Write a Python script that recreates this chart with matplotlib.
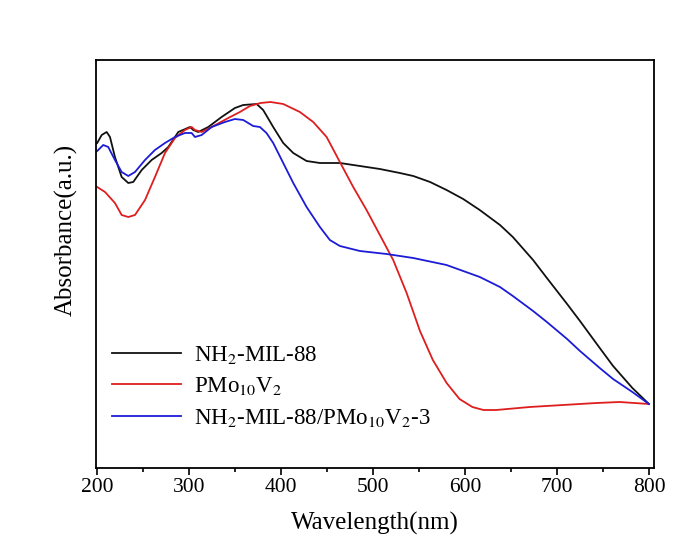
import matplotlib
matplotlib.use("Agg")
import matplotlib.pyplot as plt
from matplotlib.ticker import MultipleLocator

# ---- data (absorbance, arbitrary units) ----
nh2_x = [200, 204.9, 210.3, 213.9, 219.3, 226.6, 233.8, 239.2, 248.4, 259.2, 270.1, 277.3, 288.2,
         300.9, 304.5, 309.9, 320.8, 335.3, 349.8, 358.8, 373.4, 380.5, 391.4, 402.3, 413.2, 427.7,
         442.2, 463.9, 485.7, 507.4, 529.1, 543.7, 562, 579.9, 598, 616, 638, 652, 674, 689, 711, 725,
         746.5, 761, 782, 800]
nh2_y = [3.25, 3.33, 3.36, 3.31, 3.11, 2.91, 2.85, 2.86, 2.98, 3.08, 3.15, 3.21, 3.36,
         3.41, 3.38, 3.36, 3.41, 3.51, 3.60, 3.63, 3.64, 3.58, 3.41, 3.25, 3.15, 3.07,
         3.05, 3.05, 3.02, 2.99, 2.95, 2.92, 2.86, 2.78, 2.69, 2.58, 2.43, 2.31, 2.08, 1.90, 1.64, 1.47,
         1.20, 1.02, 0.80, 0.64]

pmo_x = [200, 208.5, 219.3, 226.6, 233.8, 241.1, 252, 262.8, 273.7, 284.6, 295.4, 302.7, 306.3,
         313.6, 324.5, 342.5, 355.2, 366.1, 377.7, 388.5, 402.3, 420.4, 434.9, 449.5, 463.9, 478.4,
         492.9, 507.4, 521.9, 536.5, 551, 565, 580, 594, 608, 620, 634, 670.4, 706.6, 742.9,
         768.2, 800]
pmo_y = [2.81, 2.76, 2.65, 2.53, 2.51, 2.53, 2.68, 2.91, 3.15, 3.30, 3.38, 3.41, 3.38,
         3.36, 3.41, 3.50, 3.56, 3.62, 3.65, 3.66, 3.64, 3.56, 3.46, 3.31, 3.06, 2.81,
         2.58, 2.33, 2.08, 1.75, 1.37, 1.08, 0.85, 0.69, 0.61, 0.58, 0.58, 0.61, 0.63, 0.65,
         0.66, 0.64]

comp_x = [200, 206.6, 212, 219.3, 226.6, 233.8, 241.1, 252, 262.8, 273.7, 284.6, 295.4, 302.7,
          306.3, 313.6, 324.5, 338.9, 349.8, 358.8, 369.6, 376.9, 384.1, 391.4, 402.3, 413.2,
          427.7, 442.2, 453, 463.9, 485.7, 514.7, 543.7, 579.9, 616.1, 638, 652, 674, 689, 711,
          725, 746.5, 761, 782, 800]
comp_y = [3.17, 3.23, 3.21, 3.08, 2.96, 2.92, 2.96, 3.08, 3.18, 3.25, 3.31, 3.35, 3.35,
          3.31, 3.33, 3.41, 3.46, 3.49, 3.48, 3.42, 3.41, 3.35, 3.25, 3.05, 2.85,
          2.61, 2.41, 2.28, 2.22, 2.17, 2.14, 2.10, 2.03, 1.91, 1.81, 1.72, 1.57, 1.46, 1.29,
          1.17, 1.00, 0.89, 0.76, 0.64]

labels = [r'NH$_2$-MIL-88', r'PMo$_{10}$V$_2$', r'NH$_2$-MIL-88/PMo$_{10}$V$_2$-3']
xticks = [200, 300, 400, 500, 600, 700, 800]

plt.rcParams['font.family'] = ['Liberation Serif', 'DejaVu Serif']
plt.rcParams['mathtext.fontset'] = 'stix'

fig = plt.figure(figsize=(6.97, 5.54), dpi=100)
ax = fig.add_axes([96/697, 1-468/554, 558/697, 408/554])

ax.plot(nh2_x, nh2_y, color='#111111', lw=1.3, label=labels[0])
ax.plot(pmo_x, pmo_y, color='#de1e1e', lw=1.3, label=labels[1])
ax.plot(comp_x, comp_y, color='#1c1cd6', lw=1.3, label=labels[2])

ax.set_xlim(198.7, 805.5)
ax.set_ylim(0, 4.08)
ax.set_xticks(xticks)
ax.set_xticklabels([str(t) for t in xticks])
ax.xaxis.set_minor_locator(MultipleLocator(50))
ax.set_yticks([])
ax.tick_params(axis='x', which='major', direction='out', length=5, width=1.2, labelsize=15.5, pad=2)
ax.tick_params(axis='x', which='minor', direction='out', length=3, width=1.2)
ax.tick_params(top=False, right=False)
for s in ax.spines.values():
    s.set_linewidth(1.3)

ax.set_xlabel('Wavelength(nm)', fontsize=18, labelpad=11)
ax.set_ylabel('Absorbance(a.u.)', fontsize=18)
ax.yaxis.set_label_coords(-0.033, 0.583)

ax.legend(loc='upper left', bbox_to_anchor=(0.016, 0.32), frameon=False, fontsize=16.5,
          handlelength=3.0, handletextpad=0.6, labelspacing=0.4, borderaxespad=0.0, borderpad=0.3)

fig.savefig('out.png', dpi=100, facecolor='white')
